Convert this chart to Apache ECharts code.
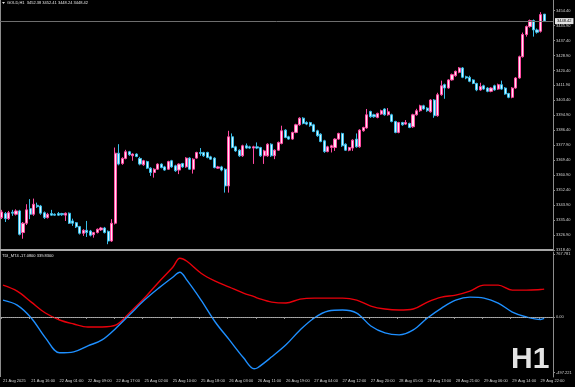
<!DOCTYPE html>
<html>
<head>
<meta charset="utf-8">
<script src="https://cdn.jsdelivr.net/npm/echarts@6/dist/echarts.min.js"></script>
<style>html,body{margin:0;padding:0;background:#000;}#c{width:575px;height:387px;}</style>
</head>
<body>
<div id="c"></div>
<script>
// ---- data ----
const tickLabels = ['21 Aug 2025','21 Aug 16:00','22 Aug 01:00','22 Aug 09:00','22 Aug 17:00','25 Aug 02:00','25 Aug 10:00','25 Aug 18:00','26 Aug 03:00','26 Aug 11:00','26 Aug 19:00','27 Aug 04:00','27 Aug 12:00','27 Aug 20:00','28 Aug 05:00','28 Aug 13:00','28 Aug 21:00','29 Aug 06:00','29 Aug 14:00','29 Aug 22:00'];

const openP = [3336.8,3339.1,3336.2,3339.9,3338.7,3340.6,3328.3,3333.6,3341.9,3338.7,
3343.8,3343.4,3339.6,3336.8,3339.1,3338.7,3339.1,3339.1,3338.2,3339.3,
3334.9,3333.9,3331.7,3327.9,3329.6,3329.2,3327.1,3328.3,3329.8,3330.9,
3329.0,3323.5,3333.6,3373.4,3367.5,3370.4,3374.2,3371.9,3372.9,3370.4,
3366.8,3368.6,3364.9,3362.4,3364.3,3367.2,3365.6,3364.3,3369.1,3366.2,
3363.8,3367.5,3365.6,3370.6,3364.3,3370.6,3373.8,3373.8,3373.8,3371.3,
3370.6,3364.9,3365.6,3364.3,3354.8,3382.7,3377.0,3375.1,3371.9,3377.6,
3377.0,3376.3,3377.0,3376.6,3371.9,3371.9,3378.5,3371.9,3375.1,3378.9,
3386.5,3382.7,3381.4,3385.2,3389.5,3393.3,3390.8,3390.8,3389.5,3386.1,
3384.2,3380.4,3374.3,3376.6,3376.6,3381.4,3384.6,3378.5,3375.1,3376.3,
3381.4,3377.0,3386.1,3387.7,3397.1,3395.2,3393.7,3395.6,3398.5,3395.2,
3395.2,3391.4,3385.2,3390.8,3389.9,3390.3,3388.4,3395.2,3397.5,3400.3,
3399.0,3396.9,3403.6,3394.7,3406.6,3412.3,3410.4,3415.0,3417.4,3419.3,
3421.8,3416.8,3416.5,3415.0,3413.0,3409.3,3411.7,3410.4,3408.5,3411.7,
3409.8,3412.3,3410.4,3407.3,3405.1,3410.4,3416.1,3428.2,3440.8,3445.3,
3448.7,3443.4,3442.6,3452.38];

const closeP = [3340.0,3336.2,3339.6,3339.3,3340.6,3327.3,3333.6,3341.2,3338.7,3344.4,
3343.0,3339.3,3336.8,3338.7,3338.2,3338.2,3338.2,3338.4,3339.3,3333.6,
3333.6,3331.5,3327.9,3329.6,3328.3,3326.8,3328.3,3330.2,3330.9,3328.3,
3323.5,3333.6,3373.4,3367.2,3370.4,3374.2,3372.5,3372.9,3371.5,3367.2,
3369.1,3364.9,3362.4,3364.3,3367.2,3365.2,3363.8,3368.6,3365.6,3363.4,
3367.2,3365.6,3370.6,3364.3,3370.0,3373.8,3373.2,3371.9,3370.9,3370.0,
3365.2,3365.6,3363.8,3354.8,3382.7,3376.6,3374.7,3371.9,3377.6,3376.3,
3376.3,3377.0,3376.3,3371.9,3374.7,3378.5,3371.9,3375.1,3379.5,3386.1,
3382.3,3381.4,3385.2,3389.5,3393.3,3390.3,3389.9,3389.0,3385.7,3383.3,
3380.0,3374.3,3377.0,3377.6,3381.4,3384.6,3377.6,3375.1,3376.6,3380.8,
3377.0,3386.5,3388.0,3395.2,3394.1,3394.1,3396.0,3397.5,3395.2,3396.9,
3391.4,3385.2,3390.8,3389.5,3390.8,3388.0,3395.2,3397.5,3400.3,3398.5,
3397.5,3403.6,3394.7,3406.6,3411.7,3410.4,3415.0,3418.0,3419.9,3421.8,
3416.5,3416.1,3414.2,3413.0,3409.3,3411.2,3409.8,3408.5,3410.4,3409.3,
3412.3,3409.8,3407.0,3405.1,3410.4,3416.1,3428.2,3440.8,3445.3,3448.7,
3443.4,3442.1,3452.1,3448.42];

const highP = [3341.2,3340.0,3340.6,3341.2,3341.5,3341.2,3334.3,3344.4,3347.3,3347.6,
3345.3,3344.0,3340.3,3339.5,3341.2,3339.2,3340.0,3339.5,3339.7,3339.7,
3336.2,3334.3,3332.1,3330.2,3334.9,3329.8,3328.7,3330.6,3331.5,3331.5,
3329.5,3335.9,3376.6,3378.5,3371.1,3375.3,3374.7,3373.3,3373.3,3371.3,
3369.6,3369.1,3365.4,3364.8,3367.6,3367.6,3366.2,3369.1,3369.6,3366.8,
3367.6,3367.9,3371.1,3371.1,3370.5,3374.2,3376.3,3374.2,3374.2,3371.9,
3371.1,3366.2,3366.2,3364.8,3386.1,3384.6,3377.6,3375.6,3378.2,3378.9,
3377.6,3377.6,3379.5,3377.0,3375.3,3379.0,3379.0,3375.6,3380.0,3389.0,
3387.0,3383.3,3385.6,3390.1,3393.8,3393.8,3391.5,3391.2,3390.1,3386.7,
3384.7,3381.0,3377.6,3378.2,3381.9,3385.0,3385.0,3379.0,3377.0,3381.3,
3384.6,3387.0,3388.4,3398.5,3397.5,3395.8,3396.4,3398.1,3398.9,3399.0,
3395.8,3391.8,3391.2,3391.2,3392.2,3390.7,3395.8,3398.6,3400.9,3400.9,
3399.5,3404.1,3404.1,3407.7,3414.6,3412.9,3415.4,3418.6,3420.3,3422.3,
3422.3,3417.4,3417.4,3415.4,3413.4,3413.4,3412.3,3410.9,3410.9,3412.3,
3412.9,3414.6,3410.9,3407.7,3410.9,3416.6,3428.8,3441.9,3445.9,3449.3,
3449.3,3444.2,3453.5,3452.41];

const lowP = [3336.0,3334.3,3335.5,3337.8,3338.0,3326.7,3324.8,3332.6,3335.9,3337.8,
3342.3,3338.4,3336.0,3336.3,3337.8,3337.8,3337.8,3337.8,3334.9,3333.2,
3332.1,3330.9,3327.2,3326.4,3325.8,3326.1,3325.4,3327.8,3329.2,3327.8,
3321.7,3323.0,3332.9,3366.5,3366.8,3369.9,3371.9,3369.1,3371.1,3366.5,
3366.2,3364.5,3360.5,3359.5,3363.9,3364.8,3363.4,3363.9,3365.1,3362.8,
3361.5,3365.1,3365.1,3363.9,3361.8,3370.2,3371.9,3371.3,3370.5,3369.6,
3364.8,3364.5,3363.1,3351.0,3351.0,3376.2,3374.2,3371.3,3371.3,3375.9,
3375.9,3367.3,3375.7,3371.3,3367.3,3371.3,3371.3,3370.0,3374.7,3378.4,
3381.9,3381.0,3381.0,3384.7,3389.0,3389.8,3389.3,3388.4,3385.3,3382.7,
3379.6,3373.6,3373.9,3373.8,3374.7,3381.0,3377.0,3374.7,3374.5,3374.7,
3376.5,3376.5,3385.6,3387.3,3393.5,3393.5,3393.2,3395.2,3394.7,3394.7,
3390.9,3384.7,3384.7,3389.0,3389.5,3387.6,3387.8,3394.7,3396.9,3398.1,
3396.9,3396.4,3393.5,3394.1,3406.0,3404.3,3410.0,3414.6,3416.8,3418.8,
3416.0,3415.4,3413.7,3412.6,3408.6,3408.9,3409.4,3408.0,3408.0,3408.9,
3409.4,3409.4,3406.6,3404.6,3404.6,3410.0,3415.7,3427.7,3439.6,3444.7,
3439.6,3441.3,3441.9,3448.24];

// TDI readings (bar index, red line, blue line)
const tdiIdx  = [0,4,8,12,16,20,24,28,32,36,40,44,48,50,52,56,60,64,68,71,72,76,80,84,88,92,96,100,104,108,112,116,120,124,128,132,136,140,144,148,152,153];
const tdiRed  = [388.5,315.6,182.1,48.6,-36.4,-85.0,-121.4,-121.4,-97.1,60.7,230.7,424.9,607.0,716.3,679.8,534.2,437.0,364.2,291.4,249.0,230.7,182.1,170.0,218.5,230.7,230.7,230.7,206.4,133.5,97.1,85.0,97.1,182.1,242.8,267.1,315.6,388.5,388.5,327.8,327.8,335.0,339.83];
const tdiBlue = [206.4,145.7,-12.1,-254.9,-437.0,-425.0,-352.1,-279.2,-133.5,36.4,206.4,352.1,485.6,546.3,449.2,206.4,-60.7,-279.2,-497.7,-631.3,-619.1,-485.6,-339.9,-157.8,-12.1,72.8,85.0,48.6,-109.3,-194.2,-218.5,-157.8,-12.1,109.3,206.4,242.8,230.7,170.0,60.7,0.0,-30.0,-17.08];

const indTickValues = [767.781, 0, -680];
const indTickLabels = ['767.781', '0.00', '-497.221'];
const lastPrice = 3448.42;
const headerText = 'GOLD,H1  3452.38 3452.41 3448.24 3448.42';
const tdiText = 'TDI_MT4 -17.0800 339.8300';

// ---- categories: H1 bars, no 00:00 bar, no weekend ----
const MON = ['Jan','Feb','Mar','Apr','May','Jun','Jul','Aug','Sep','Oct','Nov','Dec'];
const categories = [];
{
  let d = new Date(Date.UTC(2025, 7, 21, 8));
  while (categories.length < openP.length) {
    const wd = d.getUTCDay(), h = d.getUTCHours();
    if (wd !== 0 && wd !== 6 && h !== 0) {
      categories.push(String(d.getUTCDate()).padStart(2,'0') + ' ' + MON[d.getUTCMonth()] + ' ' + String(h).padStart(2,'0') + ':00');
    }
    d = new Date(d.getTime() + 3600000);
  }
  categories.push('', '');
}

const candleData = openP.map((o, i) => [o, closeP[i], lowP[i], highP[i]]);
const redData = categories.map(() => null);
const blueData = categories.map(() => null);
tdiIdx.forEach((k, j) => { redData[k] = tdiRed[j]; blueData[k] = tdiBlue[j]; });

const GRAY = '#8c8c8c';
const TXT = '#d4d4d4';
const FONT = 'Liberation Sans';

const chart = echarts.init(document.getElementById('c'), null, {renderer: 'canvas'});
chart.setOption({
  backgroundColor: '#000',
  animation: false,
  textStyle: {fontFamily: FONT},
  grid: [
    {left: 0, top: 0, width: 553, height: 250},
    {left: 0, top: 252, width: 553, height: 125}
  ],
  xAxis: [
    {type: 'category', gridIndex: 0, data: categories, boundaryGap: true,
     axisLine: {show: false}, axisTick: {show: false}, axisLabel: {show: false}, splitLine: {show: false}},
    {type: 'category', gridIndex: 1, data: categories, boundaryGap: true,
     axisLine: {show: true, lineStyle: {color: GRAY, width: 1}},
     axisTick: {show: true, interval: 7, length: 2, lineStyle: {color: GRAY}},
     axisLabel: {interval: 7, fontSize: 4, color: TXT, margin: 2, align: 'left', fontFamily: FONT,
       formatter: (v, i) => (i % 8 === 0 && tickLabels[i / 8]) ? tickLabels[i / 8] : ''},
     splitLine: {show: false}}
  ],
  yAxis: [
    {type: 'value', gridIndex: 0, position: 'right', min: 3318.4, max: 3460.4, interval: 8.5,
     axisLine: {show: true, lineStyle: {color: GRAY}},
     axisTick: {show: true, length: 2, lineStyle: {color: GRAY}},
     axisLabel: {fontSize: 4, color: TXT, margin: 3, showMaxLabel: false, fontFamily: FONT,
       formatter: v => v.toFixed(2)},
     splitLine: {show: false}},
    {type: 'value', gridIndex: 1, position: 'right', min: -732, max: 793,
     axisLine: {show: true, lineStyle: {color: GRAY}},
     axisTick: {show: true, length: 2, customValues: indTickValues, lineStyle: {color: GRAY}},
     axisLabel: {fontSize: 4, color: TXT, margin: 3, customValues: indTickValues, fontFamily: FONT,
       formatter: v => { const k = indTickValues.indexOf(v); return k >= 0 ? indTickLabels[k] : ''; }},
     splitLine: {show: false}}
  ],
  series: [
    {type: 'candlestick', xAxisIndex: 0, yAxisIndex: 0, data: candleData, barWidth: 2.6,
     itemStyle: {color: '#ffe4f1', color0: '#d9f5ff', borderColor: '#ff4aa2', borderColor0: '#38bde8', borderWidth: 1},
     markLine: {silent: true, symbol: 'none', animation: false,
       lineStyle: {color: '#6e6e6e', type: 'solid', width: 1},
       label: {show: true, position: 'end', distance: 2, formatter: lastPrice.toFixed(2), fontSize: 4,
         color: '#000', backgroundColor: '#e2e2e2', padding: [1, 2], fontFamily: FONT},
       data: [{yAxis: lastPrice}]}},
    {type: 'line', xAxisIndex: 1, yAxisIndex: 1, data: redData, connectNulls: true, smooth: 0.35,
     showSymbol: false, symbol: 'none', lineStyle: {color: '#e8000b', width: 1.4}},
    {type: 'line', xAxisIndex: 1, yAxisIndex: 1, data: blueData, connectNulls: true, smooth: 0.35,
     showSymbol: false, symbol: 'none', lineStyle: {color: '#1e8fff', width: 1.4},
     markLine: {silent: true, symbol: 'none', animation: false,
       lineStyle: {color: '#b4b4b4', type: 'dotted', width: 1}, label: {show: false},
       data: [{yAxis: 0}]}}
  ],
  graphic: [
    {type: 'line', shape: {x1: 0.5, y1: 0, x2: 0.5, y2: 377}, style: {stroke: GRAY, lineWidth: 1}, silent: true},
    {type: 'rect', shape: {x: 0, y: 249, width: 553, height: 2}, style: {fill: '#a6a6a6'}, silent: true},
    {type: 'polygon', shape: {points: [[2, 2], [5, 2], [3.5, 4]]}, style: {fill: '#e0e0e0'}, silent: true},
    {type: 'text', left: 7, top: 1, style: {text: headerText, fontSize: 4, fill: '#e6e6e6', fontFamily: FONT}, silent: true},
    {type: 'text', left: 2, top: 254, style: {text: tdiText, fontSize: 4, fill: '#e6e6e6', fontFamily: FONT}, silent: true},
    {type: 'text', x: 511, y: 360, style: {text: 'H1', fontSize: 30, fontWeight: 'bold', fill: '#e4e4e4', fontFamily: FONT, verticalAlign: 'middle', align: 'left'}, silent: true}
  ]
});
</script>
</body>
</html>
